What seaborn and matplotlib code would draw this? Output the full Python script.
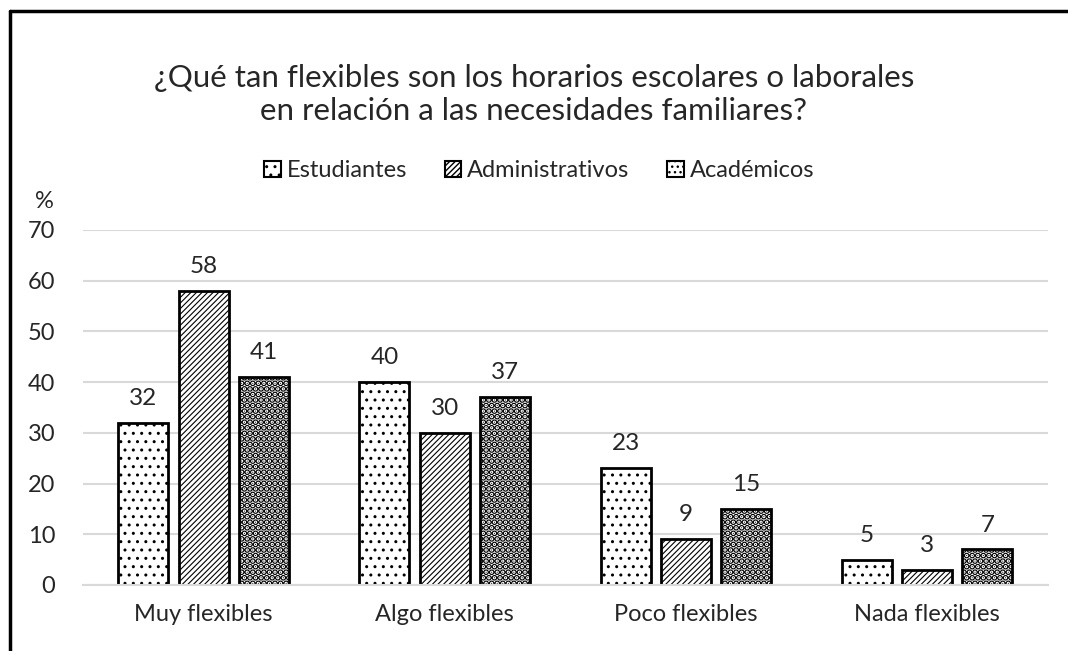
import pandas as pd
import seaborn as sns
import matplotlib.pyplot as plt
from matplotlib.patches import Patch
from matplotlib.lines import Line2D

# Datos del gráfico
categorias = ['Muy flexibles', 'Algo flexibles', 'Poco flexibles', 'Nada flexibles']
grupos = ['Estudiantes', 'Administrativos', 'Académicos']
estudiantes = [32, 40, 23, 5]
administrativos = [58, 30, 9, 3]
academicos = [41, 37, 15, 7]
ticks_y = [0, 10, 20, 30, 40, 50, 60, 70]
titulo = '¿Qué tan flexibles son los horarios escolares o laborales\nen relación a las necesidades familiares?'

df = pd.DataFrame({
    'categoria': categorias * 3,
    'grupo': [g for g in grupos for _ in categorias],
    'valor': estudiantes + administrativos + academicos,
})

sns.set_style('white')
plt.rcParams['font.family'] = ['Lato', 'DejaVu Sans']

fig = plt.figure(figsize=(10.68, 6.51), dpi=100)
ax = fig.add_axes([0.0777, 0.1014, 0.9033, 0.5453])

sns.barplot(data=df, x='categoria', y='valor', hue='grupo', order=categorias,
            hue_order=grupos, palette=['white'] * 3, edgecolor='black',
            linewidth=2, width=0.75, gap=0.17, legend=False, ax=ax)

tramas = ['..', '//////', '...']
grosores = [1.0, 0.8, 3.2]
for cont, trama, g in zip(ax.containers, tramas, grosores):
    for barra in cont:
        barra.set_hatch(trama)
        barra.set_hatch_linewidth(g)
    ax.bar_label(cont, padding=10, fontsize=17.5, color='#262626')

ax.set_ylim(0, 70)
ax.set_yticks(ticks_y)
ax.yaxis.grid(True, color='#d9d9d9', linewidth=1.5)
ax.set_axisbelow(True)
for lado in ['top', 'right', 'left']:
    ax.spines[lado].set_visible(False)
ax.spines['bottom'].set_color('#d9d9d9')
ax.spines['bottom'].set_linewidth(1.5)
ax.tick_params(axis='both', length=0, labelsize=17, labelcolor='#262626')
ax.tick_params(axis='y', pad=20)
ax.tick_params(axis='x', pad=14)
ax.set_xlabel('')
ax.set_ylabel('')

fig.text(0.5, 0.855, titulo, ha='center', va='center', fontsize=22.5,
         color='#262626', linespacing=1.25)
fig.text(0.042, 0.69, '%', ha='center', va='center', fontsize=17, color='#262626')

manijas = []
for t, g in zip(tramas, grosores):
    m = Patch(facecolor='white', edgecolor='black', hatch=t, linewidth=1.5)
    m.set_hatch_linewidth(g)
    manijas.append(m)
fig.legend(manijas, grupos, loc='center', bbox_to_anchor=(0.505, 0.738), ncol=3,
           frameon=False, fontsize=17, handlelength=0.7, handleheight=0.7,
           handletextpad=0.25, columnspacing=1.6, labelcolor='#262626')

# Borde del recuadro
fig.add_artist(Line2D([0.009, 0.009], [0, 0.983], color='black', linewidth=2.5, transform=fig.transFigure))
fig.add_artist(Line2D([0.009, 1], [0.983, 0.983], color='black', linewidth=2.5, transform=fig.transFigure))

fig.savefig('out.png', dpi=100)
